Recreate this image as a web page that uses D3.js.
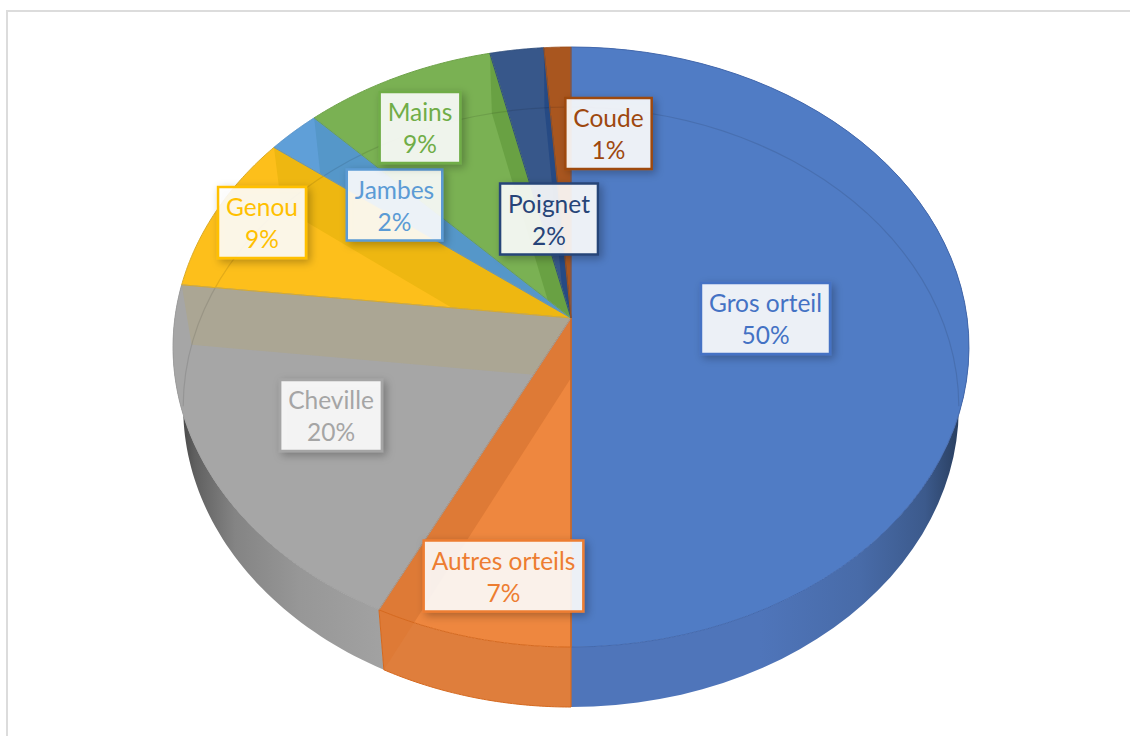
<!DOCTYPE html>
<html>
<head>
<meta charset="utf-8">
<script src="https://cdn.jsdelivr.net/npm/d3@7/dist/d3.min.js"></script>
<style>
html,body{margin:0;padding:0;background:#fff;overflow:hidden}
svg{display:block}
text{font-family:"Lato","Open Sans",sans-serif}
</style>
</head>
<body>
<svg id="chart" width="1130" height="736"></svg>
<script>
// ---- data ----
const categories = ["Gros orteil","Autres orteils","Cheville","Genou","Jambes","Mains","Poignet","Coude"];
const seriesValues = [50,7.3,19.5,8.6,2.4,8.6,2.4,1.2];
const percentLabels = ["50%","7%","20%","9%","2%","9%","2%","1%"];

// ---- styles ----
const topColors  = ["#507cc5","#ee873f","#a6a6a6","#fdbf1b","#5f9fd8","#7ab153","#37578a","#a9561f"];
const bandColors = ["#507cc5","#de7a36","#aba694","#eeb711","#5597c9","#69a143","#264a84","#a9561f"];
const edgeColors = ["#4469ad","#d5691f","#a0a0a0","#d9ab2a","#5793c9","#6fa34a","#2f4e7d","#9c4f1c"];
const textColors = ["#4472c4","#ed7d31","#a5a5a5","#ffc000","#5b9bd5","#70ad47","#264478","#9e480e"];
const labelCenters = [[765.5,318.5],[503.5,576],[331,415.5],[262,222.5],[394.5,205],[420,127.5],[549,219],[608.5,133.5]];

// ---- geometry ----
const svg = d3.select("#chart");
const apex = {x:571,y:318}, depth = 60;
const persp = 0.0967, scaleXTop = 396.1, scaleXBottom = 386, scaleY = 297.2;
function project(theta, level){
  const s = Math.sin(theta), c = Math.cos(theta), w = 1 + persp*c;
  const ax = level ? scaleXBottom : scaleXTop;
  return [apex.x + ax*s/w, apex.y + (level?depth:0) - scaleY*c/w];
}
const arcs = d3.pie().sort(null).value(d=>d)(seriesValues);
const line = d3.line();
const TAU = Math.PI*2;
function rim(a0,a1,level){
  return d3.range(0,61).map(i=>project(a0+(a1-a0)*i/60,level));
}
const apexTop = [apex.x,apex.y], apexBot = [apex.x,apex.y+depth];
const sectorPts = a => [apexTop].concat(rim(a.startAngle,a.endAngle,0));
const wallPts = a => rim(a.startAngle,a.endAngle,0).concat(rim(a.startAngle,a.endAngle,1).reverse());

// ---- defs ----
const defs = svg.append("defs");
const shadow = defs.append("filter").attr("id","shadow").attr("x","-25%").attr("y","-25%").attr("width","160%").attr("height","160%");
shadow.append("feDropShadow").attr("dx",3).attr("dy",3).attr("stdDeviation",4.5).attr("flood-color","#000").attr("flood-opacity",0.3);
function grad(id,stops){
  const g = defs.append("linearGradient").attr("id",id).attr("gradientUnits","userSpaceOnUse")
    .attr("x1",175).attr("x2",965).attr("y1",0).attr("y2",0);
  stops.forEach(s=>g.append("stop").attr("offset",(s[0]-175)/790).attr("stop-color",s[1]));
}
grad("wall0",[[175,"#4f75ba"],[760,"#4f75ba"],[860,"#486ba8"],[925,"#3c5a8c"],[965,"#263a58"]]);
grad("wall1",[[175,"#df7e3c"],[965,"#df7e3c"]]);
grad("wall2",[[175,"#3c3c3c"],[195,"#606060"],[235,"#848484"],[300,"#979797"],[385,"#a2a2a2"],[965,"#a2a2a2"]]);

// ---- frame ----
svg.append("path").attr("d","M7,736V11H1130").attr("fill","none").attr("stroke","#dcdcdc").attr("stroke-width",2);

// ---- rim walls of the front slices ----
const g = svg.append("g");
g.selectAll("path.wall").data(arcs.slice(0,3)).join("path").attr("class","wall")
  .attr("d",d=>line(wallPts(d))+"Z").attr("fill",(d,i)=>`url(#wall${i})`);

// ---- top faces ----
g.selectAll("path.top").data(arcs).join("path").attr("class","top")
  .attr("d",d=>line(sectorPts(d))+"Z").attr("fill",(d,i)=>topColors[i]);

// ---- inner radial walls seen through the slices ----
arcs.forEach((a,i)=>{
  const id = "clip"+i;
  const cp = defs.append("clipPath").attr("id",id);
  cp.append("path").attr("d",line(sectorPts(a))+"Z");
  if(i<3) cp.append("path").attr("d",line(wallPts(a))+"Z");
  const band = [apexTop,project(a.endAngle,0),project(a.endAngle,1),apexBot];
  g.append("path").attr("d",line(band)+"Z").attr("fill",bandColors[i]).attr("clip-path",`url(#${id})`);
});

// ---- back edge of the lower face, seen through the top ----
g.append("path").attr("d",line(rim(-TAU*0.265,TAU*0.265,1))).attr("fill","none")
  .attr("stroke","#000").attr("stroke-opacity",0.1).attr("stroke-width",1.2);

// ---- slice edges ----
g.selectAll("path.edge").data(arcs).join("path").attr("class","edge")
  .attr("d",d=>line(sectorPts(d))+"Z").attr("fill","none")
  .attr("stroke",(d,i)=>edgeColors[i]).attr("stroke-width",1);
// edges of the orange slice's rim
g.append("path").attr("d",line([project(arcs[1].endAngle,0),project(arcs[1].endAngle,1)]))
  .attr("stroke",edgeColors[1]).attr("stroke-width",1).attr("fill","none");
g.append("path").attr("d",line([apexTop,project(arcs[1].startAngle,1)]))
  .attr("stroke",edgeColors[1]).attr("stroke-width",1.2).attr("fill","none");
g.append("path").attr("d",line(rim(arcs[1].startAngle,arcs[1].endAngle,1)))
  .attr("stroke",edgeColors[1]).attr("stroke-width",1).attr("fill","none");

// ---- labels ----
const lab = svg.append("g");
categories.forEach((name,i)=>{
  const [cx,cy] = labelCenters[i];
  const node = lab.append("g");
  const rect = node.append("rect");
  const t1 = node.append("text").attr("x",cx).attr("y",cy-6.5).attr("text-anchor","middle")
     .attr("font-size",24.5).attr("fill",textColors[i]).text(name);
  const t2 = node.append("text").attr("x",cx).attr("y",cy+25.5).attr("text-anchor","middle")
     .attr("font-size",24.5).attr("fill",textColors[i]).text(percentLabels[i]);
  const w = t1.node().getComputedTextLength()+16;
  rect.attr("x",cx-w/2).attr("y",cy-35.5).attr("width",w).attr("height",71)
     .attr("fill","#fff").attr("fill-opacity",0.88).attr("stroke",textColors[i]).attr("stroke-width",2.5)
     .attr("filter","url(#shadow)");
});
</script>
</body>
</html>
